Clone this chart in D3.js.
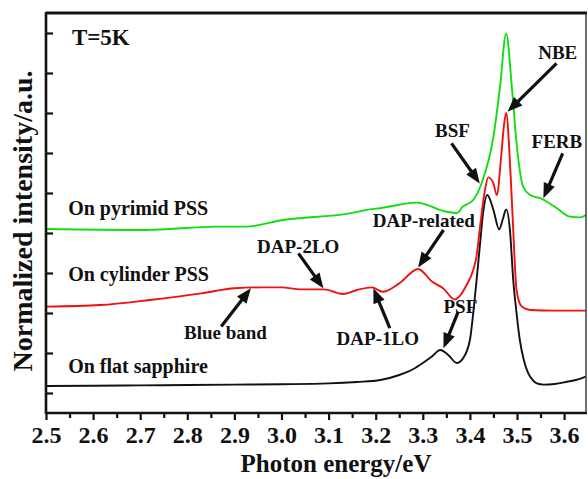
<!DOCTYPE html>
<html>
<head>
<meta charset="utf-8">
<script src="https://cdn.jsdelivr.net/npm/d3@7"></script>
<style>
html,body{margin:0;padding:0;background:#fff;}
svg text{font-family:"Liberation Serif","Times New Roman",serif;font-weight:bold;fill:#111;}
</style>
</head>
<body>
<svg id="chart" width="588" height="479"></svg>
<script>
// ---- data ----
const xDomain = [2.5, 3.6465];
const yDomain = [0, 10];
const xMajorTicks = [2.5,2.6,2.7,2.8,2.9,3.0,3.1,3.2,3.3,3.4,3.5,3.6];
const xMinorTicks = [2.55,2.65,2.75,2.85,2.95,3.05,3.15,3.25,3.35,3.45,3.55];
const yTicks = [0.5,1.5,2.5,3.5,4.5,5.5,6.5,7.5,8.5,9.5];
const xTitle = "Photon energy/eV";
const yTitle = "Normalized intensity/a.u.";

// On flat sapphire (black)
const flatX = [2.50,2.60,2.70,2.80,2.90,3.00,3.10,3.16,3.21,3.25,3.28,3.30,3.32,3.337,3.355,3.372,3.385,3.40,3.407,3.414,3.421,3.428,3.437,3.450,3.462,3.470,3.477,3.485,3.492,3.499,3.506,3.515,3.524,3.533,3.542,3.556,3.58,3.606,3.63,3.646];
const flatY = [0.675,0.68,0.69,0.70,0.71,0.72,0.74,0.775,0.825,0.95,1.10,1.25,1.42,1.575,1.44,1.25,1.36,1.825,2.49,3.3,4.16,5.0,5.45,5.075,4.59,4.85,5.09,4.575,3.325,2.5,1.825,1.3,0.99,0.83,0.74,0.71,0.725,0.78,0.84,0.91];

// On cylinder PSS (red)
const cylX = [2.50,2.615,2.72,2.83,2.90,2.955,3.00,3.04,3.09,3.13,3.16,3.192,3.215,3.25,3.29,3.32,3.343,3.368,3.393,3.407,3.414,3.421,3.432,3.439,3.450,3.457,3.467,3.472,3.477,3.484,3.489,3.492,3.499,3.510,3.528,3.58,3.646];
const cylY = [2.66,2.70,2.825,2.99,3.12,3.14,3.14,3.09,3.09,2.975,3.075,3.14,3.03,3.24,3.60,3.28,3.12,2.84,3.2,3.575,3.91,4.6,5.575,5.89,5.74,5.45,6.5,7.16,7.5,6.5,5.325,4.575,3.075,2.66,2.575,2.56,2.56];

// On pyrimid PSS (green)
const pyrX = [2.50,2.712,2.862,2.925,3.003,3.145,3.188,3.209,3.287,3.351,3.372,3.385,3.407,3.425,3.450,3.464,3.477,3.489,3.499,3.513,3.528,3.549,3.584,3.612,3.634,3.646];
const pyrY = [4.6,4.575,4.66,4.66,4.825,4.99,5.09,5.12,5.26,5.03,5.0,5.16,5.325,5.75,6.91,8.16,9.49,8.16,6.75,5.66,5.45,5.37,5.125,4.91,4.89,4.95];

const seriesNames = ["On flat sapphire","On cylinder PSS","On pyrimid PSS"];
const seriesColors = ["#111111","#ee1111","#11dd11"];

// labels: text, x (eV), y (a.u.)
const labelText = ["T=5K","On pyrimid PSS","On cylinder PSS","On flat sapphire","Blue band","DAP-2LO","DAP-1LO","DAP-related","PSF","BSF","NBE","FERB"];
const labelX =    [2.555, 2.547, 2.547, 2.547, 2.793, 2.948, 3.117, 3.194, 3.344, 3.326, 3.545, 3.531];
const labelY =    [9.2,   4.95,  3.29,  1.01,  1.84,  4.01,  1.69,  4.66,  2.49,  6.89,  8.84,  6.62];
const labelSize = [23,    20,    20,    20,    19,    19,    19,    19,    19,    19,    19,    19];

// arrows: tail (x,y) -> tip (x,y)
const arrowTailX = [2.872, 3.036, 3.230, 3.344, 3.375, 3.361, 3.584, 3.597];
const arrowTailY = [2.16,  3.99,  2.12,  4.575, 2.53,  6.74,  8.74,  6.49];
const arrowTipX  = [2.935, 3.089, 3.195, 3.290, 3.344, 3.421, 3.480, 3.556];
const arrowTipY  = [3.12,  3.12,  3.12,  3.64,  1.62,  5.74,  7.53,  5.37];

// ---- drawing ----
const svg = d3.select("#chart");
const mL = 46, mR = 586, mT = 13, mB = 413;
const x = d3.scaleLinear().domain(xDomain).range([mL, mR]);
const y = d3.scaleLinear().domain(yDomain).range([mB, mT]);

svg.append("defs").append("clipPath").attr("id","clip")
  .append("rect").attr("x",mL).attr("y",mT).attr("width",mR-mL).attr("height",mB-mT);

// labels
labelText.forEach((t,i)=>{
  svg.append("text").attr("x",x(labelX[i])).attr("y",y(labelY[i]))
    .attr("font-size",labelSize[i]).text(t);
});

// curves
const line = d3.line().x(d=>x(d[0])).y(d=>y(d[1])).curve(d3.curveMonotoneX);
const allX = [flatX, cylX, pyrX], allY = [flatY, cylY, pyrY];
allX.forEach((xs,i)=>{
  svg.append("path").datum(xs.map((v,j)=>[v, allY[i][j]]))
    .attr("clip-path","url(#clip)")
    .attr("fill","none").attr("stroke",seriesColors[i]).attr("stroke-width",1.9)
    .attr("stroke-linejoin","round").attr("d",line);
});

// arrows
const headLen = 15, headHalf = 6;
arrowTailX.forEach((tx,i)=>{
  const x0 = x(tx), y0 = y(arrowTailY[i]), x1 = x(arrowTipX[i]), y1 = y(arrowTipY[i]);
  const dx = x1-x0, dy = y1-y0, L = Math.hypot(dx,dy), ux = dx/L, uy = dy/L;
  const bx = x1-ux*headLen, by = y1-uy*headLen;
  svg.append("line").attr("x1",x0).attr("y1",y0).attr("x2",bx+ux*2).attr("y2",by+uy*2)
    .attr("stroke","#111").attr("stroke-width",3.2);
  svg.append("path").attr("d",`M${x1},${y1}L${bx-uy*headHalf},${by+ux*headHalf}L${bx+uy*headHalf},${by-ux*headHalf}Z`)
    .attr("fill","#111");
});

// axes
const gx = svg.append("g").attr("transform",`translate(0,${mB})`)
  .call(d3.axisBottom(x).tickValues(xMajorTicks).tickSize(7).tickPadding(6).tickFormat(d3.format(".1f")));
gx.select(".domain").remove();
gx.selectAll(".tick line").attr("stroke","#111").attr("stroke-width",2.2);
gx.selectAll(".tick text").attr("font-size",24).attr("fill","#111")
  .attr("font-family","Liberation Serif, Times New Roman, serif").attr("font-weight","bold");
const gxm = svg.append("g").attr("transform",`translate(0,${mB})`)
  .call(d3.axisBottom(x).tickValues(xMinorTicks).tickSize(5).tickFormat(""));
gxm.select(".domain").remove();
gxm.selectAll(".tick line").attr("stroke","#111").attr("stroke-width",2.2);

const gy = svg.append("g").attr("transform",`translate(${mL},0)`)
  .call(d3.axisRight(y).tickValues(yTicks).tickSize(7).tickFormat(""));
gy.select(".domain").remove();
gy.selectAll(".tick line").attr("stroke","#111").attr("stroke-width",2.2);

// frame
svg.append("line").attr("x1",mL).attr("x2",mR+1).attr("y1",mB).attr("y2",mB).attr("stroke","#111").attr("stroke-width",2.6);
svg.append("line").attr("x1",mL).attr("x2",mL).attr("y1",mT-1).attr("y2",mB+1).attr("stroke","#111").attr("stroke-width",2.6);
svg.append("line").attr("x1",mL).attr("x2",mR+1).attr("y1",mT).attr("y2",mT).attr("stroke","#111").attr("stroke-width",2.8);
svg.append("line").attr("x1",mR).attr("x2",mR).attr("y1",mT).attr("y2",mB).attr("stroke","#333").attr("stroke-width",1.4);

// titles
svg.append("text").attr("x",336).attr("y",472).attr("text-anchor","middle")
  .attr("font-size",25).text(xTitle);
svg.append("text").attr("transform","translate(32,221) rotate(-90)").attr("text-anchor","middle")
  .attr("font-size",28).text(yTitle);
</script>
</body>
</html>
